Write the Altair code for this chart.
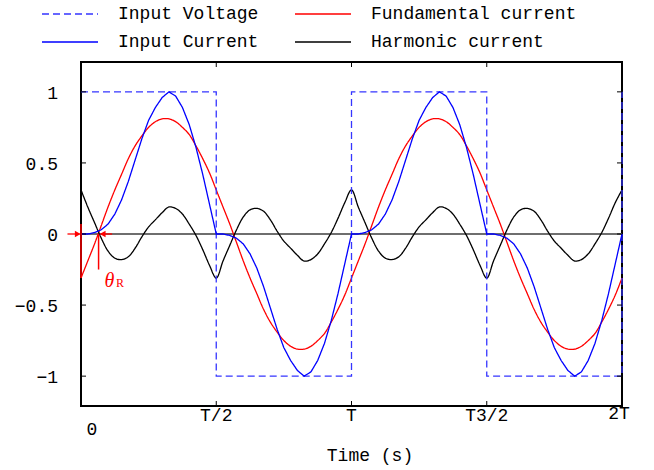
import altair as alt
import pandas as pd

W, H = 541, 344
FONT = "Liberation Mono"

# time axis in units of the period T, sampled every T/40 over two periods
t_grid = [round(0.025 * k, 3) for k in range(81)]

# square-wave supply voltage (corner points)
voltage_t = [0, 0.5, 0.5, 1, 1, 1.5, 1.5, 2, 2]
voltage_v = [1, 1, -1, -1, 1, 1, -1, -1, 1]

input_current = [
    0.00, 0.00, 0.01, 0.03, 0.07, 0.14, 0.24, 0.37, 0.52, 0.67,
    0.80, 0.89, 0.96, 1.00, 0.97, 0.89, 0.77, 0.61, 0.42, 0.21,
    0.00, 0.00, -0.01, -0.03, -0.07, -0.14, -0.24, -0.37, -0.52, -0.67,
    -0.80, -0.89, -0.96, -1.00, -0.97, -0.89, -0.77, -0.61, -0.42, -0.21,
    0.00, 0.00, 0.01, 0.03, 0.07, 0.14, 0.24, 0.37, 0.52, 0.67,
    0.80, 0.89, 0.96, 1.00, 0.97, 0.89, 0.77, 0.61, 0.42, 0.21,
    0.00, 0.00, -0.01, -0.03, -0.07, -0.14, -0.24, -0.37, -0.52, -0.67,
    -0.80, -0.89, -0.96, -1.00, -0.97, -0.89, -0.77, -0.61, -0.42, -0.21,
    0.00,
]

fundamental = [
    -0.31, -0.19, -0.07, 0.06, 0.19, 0.31, 0.42, 0.53, 0.62, 0.69,
    0.75, 0.79, 0.81, 0.81, 0.79, 0.75, 0.70, 0.62, 0.53, 0.43,
    0.31, 0.19, 0.07, -0.06, -0.19, -0.31, -0.42, -0.53, -0.62, -0.69,
    -0.75, -0.79, -0.81, -0.81, -0.79, -0.75, -0.70, -0.62, -0.53, -0.43,
    -0.31, -0.19, -0.07, 0.06, 0.19, 0.31, 0.42, 0.53, 0.62, 0.69,
    0.75, 0.79, 0.81, 0.81, 0.79, 0.75, 0.70, 0.62, 0.53, 0.43,
    0.31, 0.19, 0.07, -0.06, -0.19, -0.31, -0.42, -0.53, -0.62, -0.69,
    -0.75, -0.79, -0.81, -0.81, -0.79, -0.75, -0.70, -0.62, -0.53, -0.43,
    -0.31,
]

harmonic = [
    0.31, 0.19, 0.08, -0.03, -0.12, -0.17, -0.18, -0.16, -0.10, -0.02,
    0.05, 0.10, 0.15, 0.19, 0.18, 0.14, 0.07, -0.01, -0.11, -0.22,
    -0.31, -0.19, -0.08, 0.03, 0.12, 0.17, 0.18, 0.16, 0.10, 0.02,
    -0.05, -0.10, -0.15, -0.19, -0.18, -0.14, -0.07, 0.01, 0.11, 0.22,
    0.31, 0.19, 0.08, -0.03, -0.12, -0.17, -0.18, -0.16, -0.10, -0.02,
    0.05, 0.10, 0.15, 0.19, 0.18, 0.14, 0.07, -0.01, -0.11, -0.22,
    -0.31, -0.19, -0.08, 0.03, 0.12, 0.17, 0.18, 0.16, 0.10, 0.02,
    -0.05, -0.10, -0.15, -0.19, -0.18, -0.14, -0.07, 0.01, 0.11, 0.22,
    0.31,
]

# legend is filled column by column: first column voltage/input current
series_names = ["Input Voltage", "Input Current", "Fundamental current", "Harmonic current"]
series_colors = ["#3535ff", "#0000ff", "#ff0000", "#000000"]
series_dash = [[7, 4], [1, 0], [1, 0], [1, 0]]

x_tick_vals = [0.5, 1, 1.5]
x_tick_text = ["T/2", "T", "T3/2"]
y_tick_vals = [1, 0.5, 0, -0.5, -1]
y_tick_text = ["1", "0.5", "0", "−0.5", "−1"]

theta_r = 0.065

def long_rows(name, ts, vs):
    return [{"series": name, "t": t, "v": v, "i": i} for i, (t, v) in enumerate(zip(ts, vs))]

smooth_df = pd.DataFrame(long_rows("Fundamental current", t_grid, fundamental)
                         + long_rows("Harmonic current", t_grid, harmonic))
sharp_df = pd.DataFrame(long_rows("Input Voltage", voltage_t, voltage_v)
                        + long_rows("Input Current", t_grid, input_current))

xs = alt.Scale(domain=[0, 2], nice=False, zero=False)
ys = alt.Scale(domain=[-1.21, 1.21], nice=False, zero=False)

def X(f="t"):
    return alt.X(f"{f}:Q", scale=xs, axis=None)

def Y(f="v"):
    return alt.Y(f"{f}:Q", scale=ys, axis=None)

color = alt.Color("series:N", scale=alt.Scale(domain=series_names, range=series_colors),
                  legend=alt.Legend(title=None))
dash = alt.StrokeDash("series:N", scale=alt.Scale(domain=series_names, range=series_dash),
                      legend=alt.Legend(title=None))

zero_line = alt.Chart(pd.DataFrame({"v": [0]})).mark_rule(
    color="#6e6e6e", strokeWidth=2
).encode(y=Y())

smooth_lines = alt.Chart(smooth_df).mark_line(strokeWidth=1.3, interpolate="catmull-rom").encode(
    x=X(), y=Y(), color=color, strokeDash=dash, order="i:Q")
sharp_lines = alt.Chart(sharp_df).mark_line(strokeWidth=1.3).encode(
    x=X(), y=Y(), color=color, strokeDash=dash, order="i:Q")

xt = pd.DataFrame({"t": x_tick_vals, "lab": x_tick_text})
yt = pd.DataFrame({"v": y_tick_vals, "lab": y_tick_text})

ticks_bottom = alt.Chart(xt).mark_rule(color="black", strokeWidth=1).encode(
    x=X(), y=alt.value(H), y2=alt.value(H - 5))
ticks_top = alt.Chart(xt).mark_rule(color="black", strokeWidth=1).encode(
    x=X(), y=alt.value(0), y2=alt.value(5))
ticks_left = alt.Chart(yt).mark_rule(color="black", strokeWidth=1).encode(
    y=Y(), x=alt.value(0), x2=alt.value(5))
ticks_right = alt.Chart(yt).mark_rule(color="black", strokeWidth=1).encode(
    y=Y(), x=alt.value(W), x2=alt.value(W - 5))

y_labels = alt.Chart(yt).mark_text(
    font=FONT, fontSize=18, color="black", align="right", baseline="middle", dy=2).encode(
    y=Y(), x=alt.value(-23), text="lab:N")
x_labels = alt.Chart(xt).mark_text(font=FONT, fontSize=18, color="black", baseline="middle").encode(
    x=X(), y=alt.value(H + 10), text="lab:N")
zero_label = alt.Chart(pd.DataFrame({"t": [0], "lab": ["0"]})).mark_text(
    font=FONT, fontSize=18, color="black", baseline="middle", dx=11).encode(
    x=X(), y=alt.value(H + 24), text="lab:N")
end_label = alt.Chart(pd.DataFrame({"t": [2], "lab": ["2T"]})).mark_text(
    font=FONT, fontSize=18, color="black", baseline="middle", dx=-3).encode(
    x=X(), y=alt.value(H + 8), text="lab:N")
x_title = alt.Chart(pd.DataFrame({"lab": ["Time (s)"]})).mark_text(
    font=FONT, fontSize=18, color="black", baseline="middle").encode(
    x=alt.value(289), y=alt.value(H + 50), text="lab:N")

# theta_R marker: two verticals, two inward arrows and the label
dims = pd.DataFrame({"t": [0, theta_r], "top": [0.07, 0], "bot": [-0.31, -0.25]})
dim_rules = alt.Chart(dims).mark_rule(color="#ff0000", strokeWidth=1.5).encode(
    x=X(), y=Y("top"), y2="bot:Q")
shafts = pd.DataFrame({"t1": [-0.05, 0.115], "t2": [-0.005, theta_r + 0.01], "v": [0, 0]})
arrow_lines = alt.Chart(shafts).mark_rule(color="#ff0000", strokeWidth=1.3).encode(
    x=X("t1"), x2="t2:Q", y=Y())
heads_r = alt.Chart(pd.DataFrame({"t": [-0.012], "v": [0]})).mark_point(
    shape="triangle-right", filled=True, size=45, color="#ff0000", opacity=1).encode(x=X(), y=Y())
heads_l = alt.Chart(pd.DataFrame({"t": [theta_r + 0.015], "v": [0]})).mark_point(
    shape="triangle-left", filled=True, size=45, color="#ff0000", opacity=1).encode(x=X(), y=Y())
theta_txt = alt.Chart(pd.DataFrame({"t": [0.087], "v": [-0.373], "lab": ["θ"]})).mark_text(
    font="Liberation Serif", fontStyle="italic", fontSize=20, color="#ff0000",
    align="left", baseline="alphabetic").encode(x=X(), y=Y(), text="lab:N")
r_txt = alt.Chart(pd.DataFrame({"t": [0.129], "v": [-0.373], "lab": ["R"]})).mark_text(
    font="Liberation Serif", fontSize=12, color="#ff0000",
    align="left", baseline="alphabetic").encode(x=X(), y=Y(), text="lab:N")

chart = alt.layer(
    zero_line, smooth_lines, sharp_lines, ticks_bottom, ticks_top, ticks_left, ticks_right,
    dim_rules, arrow_lines, heads_r, heads_l, theta_txt, r_txt,
    y_labels, x_labels, zero_label, end_label, x_title,
).properties(
    width=W, height=H,
    autosize=alt.AutoSizeParams(type="none"),
    padding={"left": 81, "top": 62, "right": 32, "bottom": 64},
).configure_view(
    stroke="black", strokeWidth=2
).configure_legend(
    orient="none", legendX=-20, legendY=-57, columns=2, columnPadding=33, rowPadding=10,
    padding=0, labelFont=FONT, labelFontSize=18, labelColor="black", labelOffset=39,
    labelLimit=400, symbolType="M-4,0H4", symbolSize=196, symbolStrokeWidth=1.5,
)

chart.save("out.html", embed_options={"renderer": "svg", "actions": False})
